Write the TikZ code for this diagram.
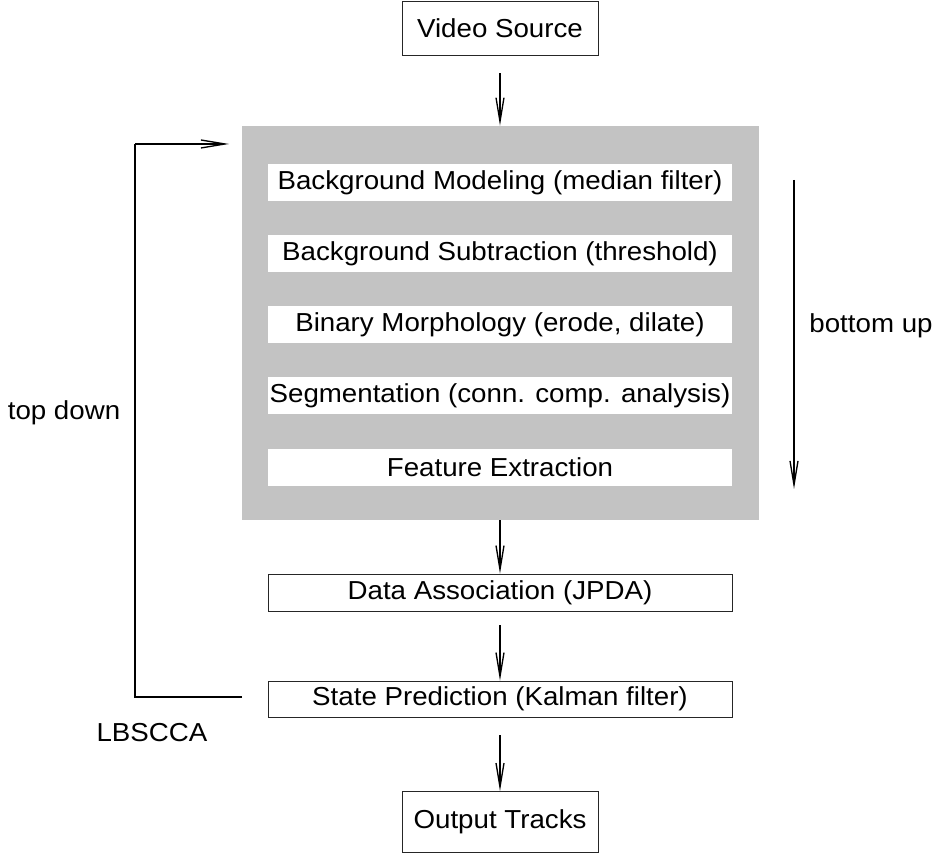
\documentclass[tikz,border=0pt]{standalone}
\usepackage{fontspec}
\setmainfont{Liberation Sans}[FakeStretch=1.065]
\usetikzlibrary{arrows.meta}
\definecolor{panelgray}{RGB}{195,195,195}
\tikzset{
  px/.style={x=0.75pt,y=-0.75pt},
  txt/.style={font=\fontsize{19.5pt}{23pt}\selectfont, inner sep=0pt},
  framed/.style={txt, draw=black!85, line width=0.6pt, fill=white},
  stage/.style={txt, fill=white, minimum width=464*0.75pt, minimum height=37*0.75pt},
  flow/.style={draw, line width=1.1pt, -{Straight Barb[length=18pt,width=6pt,line width=1pt]}},
  wire/.style={draw, line width=1.1pt}
}
\begin{document}
\begin{tikzpicture}[px]
  \useasboundingbox (0,0) rectangle (933,855);

  % input and output
  \node[framed, minimum width=196*0.75pt, minimum height=54*0.75pt] (video) at (500,28) {Video Source};
  \node[framed, minimum width=196*0.75pt, minimum height=61*0.75pt] (output) at (500,822) {Output Tracks};

  % low-level processing panel
  \node[fill=panelgray, inner sep=0pt, minimum width=517*0.75pt, minimum height=394*0.75pt] (proc) at (500.5,323) {};
  \node[stage] (bgm)  at (500,182.5) {Background Modeling (median filter)};
  \node[stage] (bgs)  at (500,253.5) {Background Subtraction (threshold)};
  \node[stage] (bin)  at (500,324.5) {Binary Morphology (erode, dilate)};
  \node[stage] (seg)  at (500,395.5) {Segmentation (conn. comp. analysis)};
  \node[stage] (feat) at (500,467.5) {Feature Extraction};

  % tracking stages
  \node[framed, minimum width=464*0.75pt, minimum height=37*0.75pt] (data)  at (500,592.5) {Data Association (JPDA)};
  \node[framed, minimum width=464*0.75pt, minimum height=36*0.75pt] (state) at (500,699) {State Prediction (Kalman filter)};

  % side labels
  \node[txt] (topdown)  at (64,413)  {top down};
  \node[txt] (lbscca)   at (152,733) {LBSCCA};
  \node[txt] (bottomup) at (871,326) {bottom up};

  % main flow
  \draw[flow, shorten <=13.5pt] (video.south) -- (proc.north -| video.south);
  \draw[flow] (proc.south -| data.north) -- (data.north);
  \draw[flow, shorten <=10.5pt] (data.south) -- (state.north);
  \draw[flow, shorten <=13.5pt] (state.south) -- (output.north);

  % feedback loop
  \coordinate (fbstart) at (242,697);
  \coordinate (fbcorner1) at (135,697);
  \coordinate (fbcorner2) at (135,144);
  \coordinate (fbend) at (229,144);
  \draw[wire] (fbstart) -- (fbcorner1) -- (fbcorner2);
  \draw[flow] (fbcorner2) -- (fbend);

  % bottom-up direction
  \coordinate (bustart) at (794,180);
  \coordinate (buend) at (794,489);
  \draw[flow] (bustart) -- (buend);
\end{tikzpicture}
\end{document}
